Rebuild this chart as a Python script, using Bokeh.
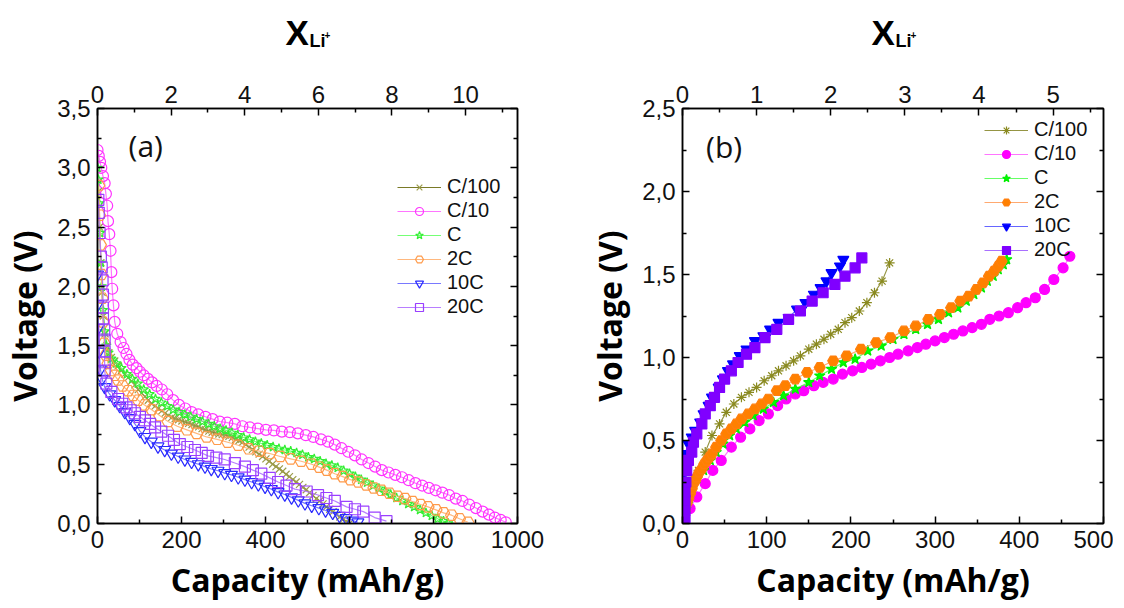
from bokeh.plotting import figure
from bokeh.models import (Range1d, LinearAxis, FixedTicker, CustomJSTickFormatter,
                          Label, Legend, LegendItem)
from bokeh.layouts import row, column
from bokeh.embed import file_html
from bokeh.resources import INLINE

# ---------------- data ----------------
SERIES_NAMES = ["C/100", "C/10", "C", "2C", "10C", "20C"]

# Panel (a): discharge, (capacity mAh/g, voltage V)
A_C100 = [(2, 2.80), (5, 2.5), (8, 2.2), (11, 1.95), (14, 1.75), (18, 1.6), (22, 1.5), (27, 1.44),
          (33, 1.40), (41, 1.37), (49, 1.33), (57, 1.29), (65, 1.26), (73, 1.23), (81, 1.20), (89, 1.17),
          (97, 1.13), (105, 1.10), (113, 1.07), (121, 1.04), (129, 1.01), (137, 0.99), (145, 0.97),
          (153, 0.95), (161, 0.93), (169, 0.91), (177, 0.895), (185, 0.885), (193, 0.875), (201, 0.865),
          (209, 0.855), (217, 0.845), (225, 0.835), (233, 0.825), (241, 0.815), (249, 0.80), (257, 0.79),
          (265, 0.78), (273, 0.77), (281, 0.765), (289, 0.755), (297, 0.75), (305, 0.745), (313, 0.735),
          (321, 0.725), (329, 0.71), (337, 0.70), (345, 0.685), (353, 0.665), (361, 0.645), (369, 0.625),
          (377, 0.605), (385, 0.585), (393, 0.565), (401, 0.545), (409, 0.525), (417, 0.50), (425, 0.48),
          (433, 0.46), (441, 0.44), (449, 0.415), (457, 0.395), (465, 0.37), (473, 0.35), (481, 0.33),
          (489, 0.305), (497, 0.285), (505, 0.26), (513, 0.235), (521, 0.21), (529, 0.19), (537, 0.165),
          (545, 0.14), (553, 0.12), (561, 0.10), (569, 0.075), (577, 0.055), (585, 0.035), (593, 0.015),
          (600, 0.0)]
A_C10 = [(0, 3.15), (3, 3.10), (6, 3.05), (9, 3.00), (13, 2.93), (17, 2.87), (20, 2.78), (23, 2.68),
         (25, 2.55), (28, 2.44), (31, 2.30), (33, 2.12), (35, 1.98), (38, 1.84), (41, 1.70), (47, 1.60),
         (55, 1.53), (62, 1.48), (69, 1.43), (76, 1.38), (84, 1.34), (93, 1.31), (101, 1.28), (110, 1.25),
         (120, 1.22), (130, 1.19), (141, 1.16), (153, 1.13), (166, 1.09), (180, 1.04), (194, 1.00),
         (209, 0.97), (224, 0.94), (240, 0.92), (257, 0.90), (274, 0.88), (291, 0.86), (309, 0.85),
         (327, 0.84), (345, 0.82), (363, 0.81), (382, 0.80), (401, 0.79), (420, 0.785), (439, 0.775),
         (458, 0.77), (477, 0.76), (496, 0.745), (514, 0.73), (532, 0.71), (549, 0.69), (565, 0.665),
         (581, 0.635), (597, 0.605), (613, 0.575), (629, 0.54), (645, 0.51), (661, 0.48), (677, 0.45),
         (693, 0.43), (709, 0.41), (725, 0.39), (741, 0.365), (757, 0.34), (773, 0.32), (789, 0.30),
         (805, 0.28), (821, 0.26), (837, 0.24), (853, 0.21), (869, 0.19), (885, 0.16), (901, 0.13),
         (917, 0.10), (932, 0.075), (946, 0.05), (960, 0.03), (972, 0.01)]
A_C = [(0, 3.0), (2, 2.9), (4, 2.7), (6, 2.45), (8, 2.2), (10, 2.0), (13, 1.8), (17, 1.62), (21, 1.5),
       (26, 1.44), (33, 1.39), (45, 1.35), (57, 1.31), (70, 1.26), (83, 1.22), (96, 1.18), (110, 1.13),
       (124, 1.09), (138, 1.05), (152, 1.02), (166, 0.99), (180, 0.96), (194, 0.94), (208, 0.92),
       (222, 0.90), (236, 0.88), (250, 0.86), (264, 0.84), (278, 0.82), (292, 0.80), (306, 0.785),
       (320, 0.765), (334, 0.745), (348, 0.725), (362, 0.71), (376, 0.69), (390, 0.675), (404, 0.66),
       (418, 0.645), (432, 0.63), (446, 0.62), (460, 0.61), (474, 0.595), (488, 0.58), (502, 0.56),
       (516, 0.545), (530, 0.525), (544, 0.505), (558, 0.49), (572, 0.47), (586, 0.445), (600, 0.42),
       (614, 0.395), (628, 0.37), (642, 0.345), (656, 0.32), (670, 0.295), (684, 0.27), (698, 0.245),
       (712, 0.215), (726, 0.19), (740, 0.165), (754, 0.14), (768, 0.115), (782, 0.09), (796, 0.065),
       (810, 0.04), (824, 0.02), (835, 0.0)]
A_2C = [(3, 2.85), (5, 2.6), (7, 2.35), (9, 2.1), (11, 1.9), (13, 1.7), (16, 1.52), (20, 1.42),
        (25, 1.35), (33, 1.29), (41, 1.25), (49, 1.21), (60, 1.16), (73, 1.12), (85, 1.08), (97, 1.04),
        (112, 1.00), (129, 0.96), (148, 0.91), (168, 0.86), (190, 0.82), (213, 0.79), (236, 0.76),
        (260, 0.73), (285, 0.71), (310, 0.685), (335, 0.66), (360, 0.63), (385, 0.61), (410, 0.59),
        (435, 0.565), (460, 0.545), (485, 0.525), (510, 0.50), (528, 0.475), (546, 0.45), (565, 0.42),
        (584, 0.395), (602, 0.37), (621, 0.35), (640, 0.325), (658, 0.30), (676, 0.28), (695, 0.255),
        (714, 0.23), (732, 0.21), (750, 0.185), (769, 0.16), (787, 0.14), (806, 0.115), (824, 0.09),
        (843, 0.07), (862, 0.04), (882, 0.01)]
A_10C = [(0, 2.1), (1, 1.85), (2, 1.65), (4, 1.45), (7, 1.3), (11, 1.22), (17, 1.15), (29, 1.09),
         (41, 1.04), (53, 0.99), (65, 0.94), (77, 0.89), (89, 0.84), (101, 0.78), (113, 0.73), (128, 0.69),
         (144, 0.65), (160, 0.62), (176, 0.59), (192, 0.565), (208, 0.54), (224, 0.52), (240, 0.50),
         (256, 0.48), (271, 0.46), (287, 0.445), (303, 0.425), (319, 0.41), (335, 0.39), (351, 0.37),
         (367, 0.35), (383, 0.33), (399, 0.31), (414, 0.29), (430, 0.265), (446, 0.245), (462, 0.22),
         (478, 0.195), (494, 0.17), (510, 0.15), (527, 0.13), (543, 0.11), (560, 0.09), (576, 0.065),
         (592, 0.045), (608, 0.025), (620, 0.01)]
A_20C = [(2, 2.73), (3, 2.62), (5, 2.45), (8, 2.25), (10, 2.16), (12, 2.05), (13, 1.93), (13, 1.82),
         (13, 1.73), (16, 1.63), (17, 1.55), (17, 1.45), (17, 1.36), (17, 1.29), (21, 1.18), (33, 1.11),
         (49, 1.05), (59, 1.01), (69, 0.98), (79, 0.955), (89, 0.93), (101, 0.90), (113, 0.87),
         (125, 0.84), (137, 0.81), (152, 0.775), (168, 0.74), (182, 0.705), (196, 0.67), (214, 0.645),
         (232, 0.62), (248, 0.595), (263, 0.57), (283, 0.555), (303, 0.54), (327, 0.51), (351, 0.48),
         (370, 0.45), (390, 0.42), (410, 0.385), (430, 0.35), (450, 0.32), (470, 0.29), (498, 0.27),
         (525, 0.24), (545, 0.215), (565, 0.19), (593, 0.14), (613, 0.12), (633, 0.10), (660, 0.05),
         (688, 0.02)]

# Panel (b): charge, (capacity mAh/g, voltage V)
B_C100 = [(3, 0.0), (9, 0.18), (19, 0.32), (27, 0.43), (35, 0.53), (44, 0.60), (52, 0.67), (61, 0.72),
          (70, 0.76), (79, 0.79), (88, 0.82), (97, 0.86), (106, 0.89), (114, 0.92), (123, 0.95),
          (132, 0.98), (140, 1.01), (150, 1.05), (159, 1.08), (168, 1.11), (176, 1.14), (185, 1.17),
          (193, 1.21), (201, 1.24), (210, 1.28), (219, 1.33), (228, 1.39), (237, 1.46), (246, 1.57)]
B_C10 = [(0, 0.0), (9, 0.09), (17, 0.16), (27, 0.24), (36, 0.32), (46, 0.38), (58, 0.46), (69, 0.52),
         (80, 0.57), (91, 0.62), (102, 0.66), (113, 0.71), (123, 0.75), (134, 0.78), (144, 0.80),
         (156, 0.83), (167, 0.85), (179, 0.87), (190, 0.90), (202, 0.92), (213, 0.94), (224, 0.96),
         (235, 0.98), (246, 1.00), (256, 1.02), (268, 1.04), (279, 1.06), (289, 1.08), (300, 1.10),
         (311, 1.12), (322, 1.14), (333, 1.16), (344, 1.18), (355, 1.20), (365, 1.23), (376, 1.25),
         (387, 1.27), (398, 1.30), (408, 1.33), (419, 1.36), (430, 1.41), (441, 1.47), (452, 1.54),
         (460, 1.61)]
B_C = [(0, 0.0), (3, 0.06), (6, 0.12), (11, 0.21), (17, 0.27), (25, 0.32), (33, 0.38), (40, 0.43),
       (48, 0.48), (56, 0.53), (64, 0.57), (74, 0.61), (84, 0.65), (96, 0.69), (108, 0.73), (120, 0.77),
       (134, 0.81), (150, 0.85), (163, 0.89), (177, 0.93), (191, 0.97), (205, 0.99), (220, 1.04),
       (236, 1.07), (250, 1.11), (263, 1.14), (277, 1.17), (291, 1.20), (304, 1.23), (316, 1.27),
       (327, 1.30), (337, 1.34), (346, 1.38), (355, 1.42), (362, 1.46), (369, 1.49), (375, 1.53),
       (381, 1.56), (385, 1.59)]
B_2C = [(0, 0.0), (2, 0.05), (3, 0.08), (5, 0.12), (7, 0.15), (9, 0.18), (11, 0.21), (13, 0.24),
        (15, 0.26), (17, 0.28), (20, 0.31), (23, 0.33), (26, 0.36), (29, 0.38), (32, 0.40), (35, 0.42),
        (40, 0.46), (46, 0.50), (52, 0.54), (58, 0.57), (64, 0.60), (70, 0.63), (78, 0.66), (86, 0.69),
        (94, 0.72), (102, 0.75), (112, 0.80), (122, 0.83), (134, 0.87), (148, 0.91), (163, 0.94),
        (179, 0.98), (195, 1.01), (212, 1.05), (230, 1.09), (247, 1.12), (263, 1.16), (277, 1.19),
        (292, 1.23), (306, 1.26), (319, 1.30), (330, 1.34), (340, 1.37), (349, 1.41), (357, 1.45),
        (364, 1.49), (370, 1.52), (375, 1.55), (379, 1.58)]
B_10C = [(0, 0.02), (1, 0.10), (1, 0.18), (2, 0.25), (2, 0.30), (3, 0.36), (3, 0.42), (7, 0.48),
         (11, 0.52), (15, 0.56), (21, 0.61), (25, 0.66), (31, 0.71), (35, 0.76), (43, 0.82), (48, 0.87),
         (54, 0.92), (60, 0.96), (68, 1.01), (76, 1.05), (86, 1.10), (96, 1.13), (104, 1.17), (114, 1.21),
         (126, 1.24), (136, 1.29), (146, 1.33), (156, 1.38), (164, 1.42), (171, 1.46), (177, 1.51),
         (187, 1.55), (191, 1.59)]
B_20C = [(3, 0.02), (3, 0.08), (3, 0.14), (3, 0.19), (4, 0.25), (5, 0.32), (7, 0.38), (11, 0.43),
         (13, 0.49), (17, 0.54), (23, 0.60), (27, 0.66), (33, 0.71), (38, 0.76), (44, 0.82), (50, 0.87),
         (58, 0.92), (66, 0.97), (76, 1.02), (86, 1.06), (98, 1.12), (112, 1.17), (126, 1.23),
         (140, 1.28), (154, 1.34), (167, 1.39), (181, 1.44), (193, 1.49), (205, 1.54), (213, 1.60)]

A_X_TICKS = [0, 200, 400, 600, 800, 1000]
A_Y_TICKS = [0.0, 0.5, 1.0, 1.5, 2.0, 2.5, 3.0, 3.5]
A_TOP_TICKS = [0, 2, 4, 6, 8, 10]
A_TOP_MAX = 11.41
B_X_TICKS = [0, 100, 200, 300, 400, 500]
B_Y_TICKS = [0.0, 0.5, 1.0, 1.5, 2.0, 2.5]
B_TOP_TICKS = [0, 1, 2, 3, 4, 5]
B_TOP_MAX = 5.68

# ---------------- styles ----------------
A_STYLE = {
    "C/100": dict(marker="x", color="#9c9c4a", line="#6b6b10", size=10, fill=None),
    "C/10": dict(marker="circle", color="#ff33ff", line="#ff66ff", size=11, fill=None),
    "C": dict(marker="star", color="#33ee33", line="#66ff66", size=10, fill=None),
    "2C": dict(marker="hex", color="#ff9a4a", line="#ffb070", size=12, fill=None),
    "10C": dict(marker="inverted_triangle", color="#2a2aff", line="#6a6aff", size=12, fill=None),
    "20C": dict(marker="square", color="#9a40ff", line="#b070ff", size=11, fill=None),
}
B_STYLE = {
    "C/100": dict(marker="asterisk", color="#8a8a20", line="#8a8a30", size=10, fill=None),
    "C/10": dict(marker="circle", color="#ff00ff", line="#ff66ff", size=10, fill="#ff00ff"),
    "C": dict(marker="star", color="#00ee00", line="#55ff55", size=11, fill="#00ff00"),
    "2C": dict(marker="hex", color="#ff7f0e", line="#ffa060", size=11, fill="#ff8000"),
    "10C": dict(marker="inverted_triangle", color="#0000ff", line="#5555ff", size=11, fill="#0000ff"),
    "20C": dict(marker="square", color="#7f00ff", line="#a060ff", size=10, fill="#8000ff"),
}

TICK_FONT = "Liberation Sans"
TITLE_FONT = "Open Sans"
STRIP_H = 60


def style_axis(ax, ticks, minor, fmt=None, show_labels=True):
    ax.ticker = FixedTicker(ticks=ticks, minor_ticks=minor)
    ax.major_tick_in = 7
    ax.major_tick_out = 0
    ax.minor_tick_in = 4
    ax.minor_tick_out = 0
    ax.axis_line_width = 1.5
    ax.major_tick_line_width = 1.5
    ax.minor_tick_line_width = 1.5
    ax.major_label_text_font = TICK_FONT
    ax.major_label_text_font_size = "24px"
    ax.major_label_text_color = "#111111"
    if fmt is not None:
        ax.formatter = fmt
    if not show_labels:
        ax.major_label_text_font_size = "0px"
        ax.major_label_text_color = None


def make_panel(series, styles, x_max, y_max, x_ticks, x_minor, y_ticks, y_minor,
               top_max, top_ticks, top_minor, frame_w, border_left, border_right, legend_loc,
               tag, tag_xy):
    p = figure(frame_width=frame_w, frame_height=415,
               x_range=Range1d(0, x_max), y_range=Range1d(0, y_max),
               output_backend="svg", toolbar_location=None,
               min_border_left=border_left, min_border_right=border_right,
               min_border_top=108 - STRIP_H, min_border_bottom=80)
    p.xgrid.grid_line_color = None
    p.ygrid.grid_line_color = None
    p.outline_line_color = "black"
    p.outline_line_width = 1.5
    p.background_fill_color = "white"

    comma = CustomJSTickFormatter(code="return tick.toFixed(1).replace('.', ',');")
    intf = CustomJSTickFormatter(code="return tick.toFixed(0);")

    style_axis(p.xaxis[0], x_ticks, x_minor, intf)
    p.xaxis[0].axis_label = "Capacity (mAh/g)"
    p.xaxis[0].major_label_standoff = 7
    p.xaxis[0].axis_label_standoff = 7
    style_axis(p.yaxis[0], y_ticks, y_minor, comma)
    p.yaxis[0].axis_label = "Voltage (V)"
    p.yaxis[0].major_label_standoff = 7
    p.yaxis[0].axis_label_standoff = 8
    for ax in (p.xaxis[0], p.yaxis[0]):
        ax.axis_label_text_font = TITLE_FONT
        ax.axis_label_text_font_style = "bold"
        ax.axis_label_text_font_size = "32px"
        ax.axis_label_text_color = "black"

    p.extra_x_ranges = {"xli": Range1d(0, top_max)}
    top = LinearAxis(x_range_name="xli")
    style_axis(top, top_ticks, top_minor, intf)
    top.major_label_standoff = 6
    p.add_layout(top, "above")

    right = LinearAxis()
    style_axis(right, y_ticks, y_minor, comma, show_labels=False)
    p.add_layout(right, "right")

    items = []
    for name, pts in series:
        st = styles[name]
        xs = [c for c, v in pts]
        ys = [v for c, v in pts]
        ln = p.line(xs, ys, line_color=st["line"], line_width=1.2, line_alpha=0.9)
        sc = p.scatter(xs, ys, marker=st["marker"], size=st["size"], line_color=st["color"],
                       fill_color=st["fill"], line_width=1.2)
        items.append(LegendItem(label=name, renderers=[ln, sc]))

    leg = Legend(items=items, location=legend_loc)
    leg.background_fill_alpha = 0
    leg.border_line_alpha = 0
    leg.padding = 0
    leg.margin = 0
    leg.spacing = 1
    leg.glyph_height = 20
    leg.glyph_width = 44
    leg.label_height = 20
    leg.label_standoff = 6
    leg.label_text_font = TICK_FONT
    leg.label_text_font_size = "20px"
    leg.label_text_color = "#111111"
    p.add_layout(leg)

    p.add_layout(Label(x=tag_xy[0], y=tag_xy[1], text=tag, text_font=TITLE_FONT,
                       text_font_size="30px", text_baseline="middle", text_color="#111111"))
    return p


def make_title_strip(width, frame_w, x_pos, y_pos):
    """Strip above a panel carrying the top-axis title X_{Li+}.
    Its frame lines up with the panel frame below (x measured from frame left)."""
    s = figure(width=width, height=STRIP_H, x_range=Range1d(0, frame_w), y_range=Range1d(0, STRIP_H),
               output_backend="svg", toolbar_location=None,
               x_axis_location=None, y_axis_location=None, min_border=0)
    s.grid.grid_line_color = None
    s.outline_line_color = None
    texts = [("X", "35px"), ("Li", "18px"), ("+", "10px")]
    for (t, fs), x, y in zip(texts, x_pos, y_pos):
        s.add_layout(Label(x=x, y=y, text=t, text_font=TICK_FONT, text_font_style="bold",
                           text_font_size=fs, text_color="black", text_baseline="middle"))
    return s


a_series = list(zip(SERIES_NAMES, [A_C100, A_C10, A_C, A_2C, A_10C, A_20C]))
b_series = list(zip(SERIES_NAMES, [B_C100, B_C10, B_C, B_2C, B_10C, B_20C]))

A_LEFT, A_RIGHT, A_FW = 97, 68, 420
B_LEFT, B_RIGHT, B_FW = 97, 10, 421

pa = make_panel(a_series, A_STYLE, 1000, 3.5, A_X_TICKS, [100, 300, 500, 700, 900],
                A_Y_TICKS, [0.25, 0.75, 1.25, 1.75, 2.25, 2.75, 3.25],
                A_TOP_MAX, A_TOP_TICKS, [1, 3, 5, 7, 9, 11], A_FW, A_LEFT, A_RIGHT, (300, 205),
                "(a)", (74, 3.19))
pb = make_panel(b_series, B_STYLE, 500, 2.5, B_X_TICKS, [50, 150, 250, 350, 450],
                B_Y_TICKS, [0.25, 0.75, 1.25, 1.75, 2.25],
                B_TOP_MAX, B_TOP_TICKS, [0.5, 1.5, 2.5, 3.5, 4.5, 5.5], B_FW, B_LEFT, B_RIGHT, (302, 262),
                "(b)", (28, 2.27))

sa = make_title_strip(A_LEFT + A_FW + A_RIGHT, A_FW, (188, 212, 227), (28, 20, 26))
sb = make_title_strip(B_LEFT + B_FW + B_RIGHT, B_FW, (189, 213, 228), (28, 20, 26))

layout = row(column(sa, pa), column(sb, pb))
open("out.html", "w").write(file_html(layout, INLINE))
